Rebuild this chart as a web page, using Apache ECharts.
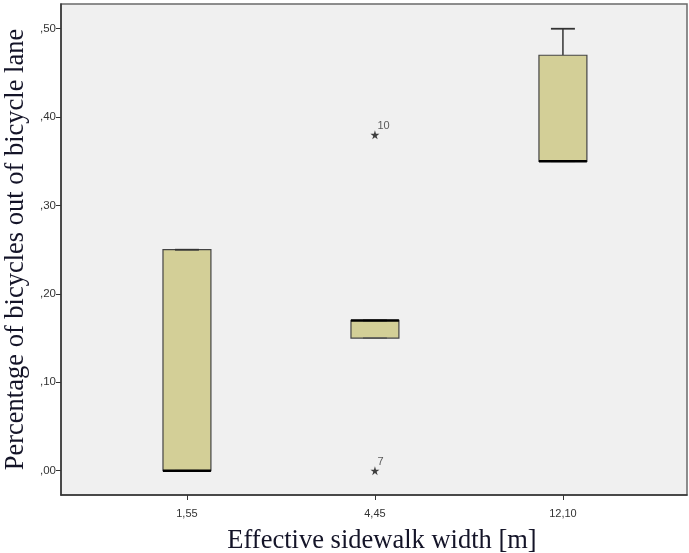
<!DOCTYPE html>
<html><head><meta charset="utf-8">
<script src="https://cdn.jsdelivr.net/npm/echarts@6/dist/echarts.min.js"></script>
<style>html,body{margin:0;padding:0;background:#fff}#c{width:689px;height:553px}</style>
</head><body><div id="c"></div>
<script>
const categories = ['1,55', '4,45', '12,10'];
const whiskerLow = [0.00, 0.15, 0.35];
const q1 = [0.00, 0.15, 0.35];
const median = [0.00, 0.17, 0.35];
const q3 = [0.25, 0.17, 0.47];
const whiskerHigh = [0.25, 0.17, 0.50];
const outlierCat = [1, 1];
const outlierVal = [0.38, 0.00];
const outlierId = ['10', '7'];
const yTicks = [0, 0.1, 0.2, 0.3, 0.4, 0.5];
const yTickLabels = [',00', ',10', ',20', ',30', ',40', ',50'];

const boxData = categories.map((c, i) => [i, whiskerLow[i], q1[i], median[i], q3[i], whiskerHigh[i]]);
const outData = outlierCat.map((c, i) => ({ value: [c, outlierVal[i]], label: { formatter: outlierId[i] } }));

const starPath = 'path://M50,0 L61,35 L98,35 L68,57 L79,91 L50,70 L21,91 L32,57 L2,35 L39,35 Z';

const chart = echarts.init(document.getElementById('c'), null, { renderer: 'canvas' });
chart.setOption({
  animation: false,
  backgroundColor: '#ffffff',
  grid: { left: 61, right: 2, top: 4, bottom: 58, containLabel: false, outerBoundsMode: 'none', show: true, backgroundColor: '#f0f0f0', borderColor: '#6a6a6a', borderWidth: 1.5 },
  xAxis: {
    type: 'value', min: -0.67, max: 2.66,
    splitLine: { show: false },
    axisLine: { show: true, onZero: false, lineStyle: { color: '#333', width: 1.5 } },
    axisTick: { show: true, length: 5, customValues: [0, 1, 2], lineStyle: { color: '#333' } },
    axisLabel: { customValues: [0, 1, 2], formatter: v => categories[Math.round(v)], color: '#333', fontFamily: 'Liberation Sans, Arial', fontSize: 11, margin: 13 },
    name: 'Effective sidewalk width [m]', nameLocation: 'middle', nameGap: 33,
    nameTextStyle: { fontFamily: 'Liberation Serif, Times New Roman', fontSize: 26.5, color: '#141428', padding: [0, 0, 0, 16] }
  },
  yAxis: {
    type: 'value', min: -0.0275, max: 0.528,
    splitLine: { show: false },
    axisLine: { show: true, onZero: false, lineStyle: { color: '#333', width: 1.5 } },
    axisTick: { show: true, length: 5, customValues: yTicks, lineStyle: { color: '#333' } },
    axisLabel: { customValues: yTicks, formatter: v => yTickLabels[yTicks.findIndex(t => Math.abs(t - v) < 1e-6)], color: '#333', fontFamily: 'Liberation Sans, Arial', fontSize: 11.5, margin: 5 },
    name: 'Percentage of bicycles out of bicycle lane', nameLocation: 'middle', nameGap: 29,
    nameTextStyle: { fontFamily: 'Liberation Serif, Times New Roman', fontSize: 26.5, color: '#141428' }
  },
  series: [
    {
      type: 'custom',
      data: boxData,
      encode: { x: 0, y: [1, 2, 3, 4, 5] },
      renderItem: function (params, api) {
        const x = api.value(0);
        const pLow = api.coord([x, api.value(1)]);
        const pQ1 = api.coord([x, api.value(2)]);
        const pMed = api.coord([x, api.value(3)]);
        const pQ3 = api.coord([x, api.value(4)]);
        const pHigh = api.coord([x, api.value(5)]);
        const w = api.size([0.255, 0])[0];
        const half = w / 2, capHalf = w / 4;
        const cx = pQ1[0];
        const children = [];
        if (pHigh[1] < pQ3[1] - 0.5) {
          children.push({ type: 'line', shape: { x1: cx, y1: pQ3[1], x2: cx, y2: pHigh[1] }, style: { stroke: '#333', lineWidth: 1.5 } });
        }
        if (pLow[1] > pQ1[1] + 0.5) {
          children.push({ type: 'line', shape: { x1: cx, y1: pQ1[1], x2: cx, y2: pLow[1] }, style: { stroke: '#333', lineWidth: 1.5 } });
        }
        children.push({ type: 'rect', shape: { x: cx - half, y: pQ3[1], width: w, height: pQ1[1] - pQ3[1] }, style: { fill: '#d3cf97', stroke: '#444', lineWidth: 1.2 } });
        children.push({ type: 'line', shape: { x1: cx - capHalf, y1: pHigh[1], x2: cx + capHalf, y2: pHigh[1] }, style: { stroke: '#333', lineWidth: 1.8 } });
        children.push({ type: 'line', shape: { x1: cx - capHalf, y1: pLow[1], x2: cx + capHalf, y2: pLow[1] }, style: { stroke: '#555', lineWidth: 1.5 } });
        children.push({ type: 'line', shape: { x1: cx - half, y1: pMed[1], x2: cx + half, y2: pMed[1] }, style: { stroke: '#000', lineWidth: 2.5 } });
        return { type: 'group', children: children };
      }
    },
    {
      type: 'scatter',
      data: outData,
      symbol: starPath,
      symbolSize: 9,
      itemStyle: { color: '#111' },
      label: { show: true, position: [7, -10], color: '#333', fontFamily: 'Liberation Sans, Arial', fontSize: 11 }
    }
  ]
});
</script>
</body></html>
